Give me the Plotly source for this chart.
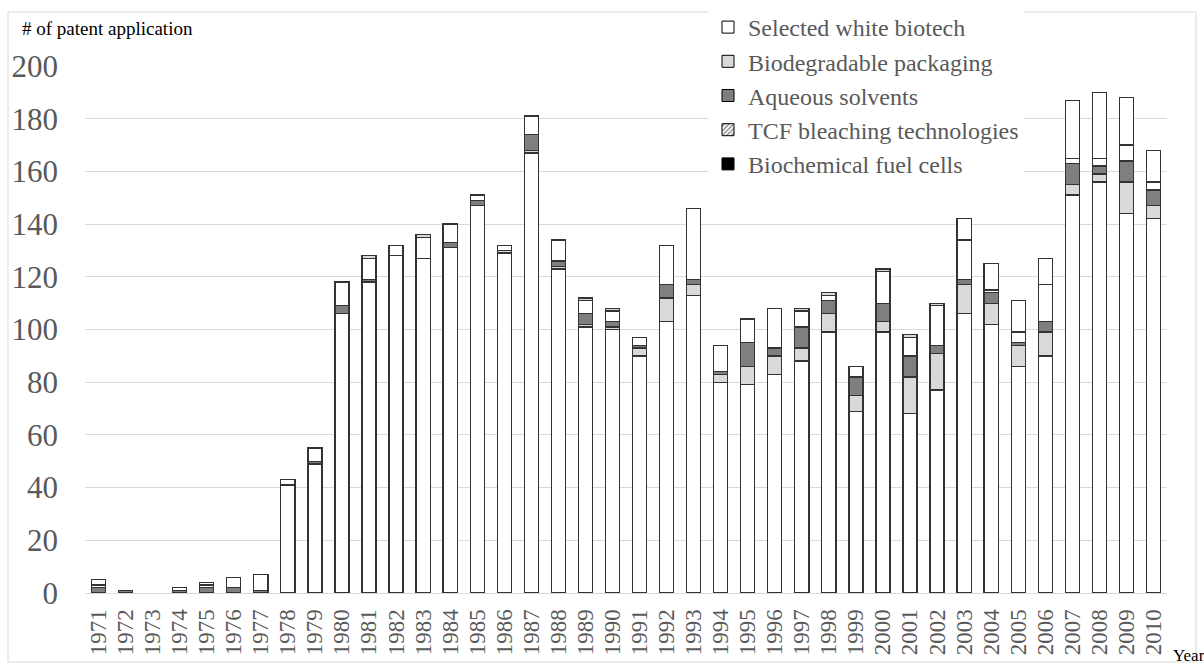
import plotly.graph_objects as go

years = [str(y) for y in range(1971, 2011)]

# stacked segments, bottom -> top
base_white = [0, 0, 0, 0, 0, 0, 0, 41, 49, 106, 118, 128, 127, 131, 147, 129, 167, 123, 101, 100,
              90, 103, 113, 80, 79, 83, 88, 99, 69, 99, 68, 77, 106, 102, 86, 90, 151, 156, 144, 142]
biodegradable = [0, 0, 0, 0, 0, 0, 0, 0, 0, 0, 0, 0, 0, 0, 0, 1, 1, 1, 1, 1,
                 3, 9, 4, 3, 7, 7, 5, 7, 6, 4, 14, 14, 11, 8, 8, 9, 4, 3, 12, 5]
aqueous = [2, 1, 0, 1, 2, 2, 1, 0, 1, 3, 1, 0, 0, 2, 2, 0, 6, 2, 4, 2,
           1, 5, 2, 1, 9, 3, 8, 5, 7, 7, 8, 3, 2, 4, 1, 4, 8, 3, 8, 6]
white_mid = [1, 0, 0, 1, 1, 4, 6, 2, 5, 9, 8, 4, 8, 7, 2, 2, 7, 8, 5, 4,
             3, 15, 27, 10, 9, 15, 6, 2, 4, 12, 7, 15, 15, 1, 4, 14, 2, 3, 6, 3]
white_top = [2, 0, 0, 0, 1, 0, 0, 0, 0, 0, 0, 0, 0, 0, 0, 0, 0, 0, 0, 0,
             0, 0, 0, 0, 0, 0, 0, 0, 0, 0, 0, 0, 8, 10, 12, 10, 22, 25, 18, 12]
gray_cap = [0, 0, 0, 0, 0, 0, 0, 0, 0, 0, 1, 0, 1, 0, 0, 0, 0, 0, 1, 1,
            0, 0, 0, 0, 0, 0, 1, 1, 0, 1, 1, 1, 0, 0, 0, 0, 0, 0, 0, 0]

legend_names = ["Selected white biotech", "Biodegradable packaging", "Aqueous solvents",
                "TCF bleaching technologies", "Biochemical fuel cells"]

EDGE = "#333333"
segments = [
    (base_white, "#ffffff"),
    (biodegradable, "#d9d9d9"),
    (aqueous, "#7f7f7f"),
    (white_mid, "#ffffff"),
    (white_top, "#ffffff"),
    (gray_cap, "#d9d9d9"),
]

fig = go.Figure()
for vals, col in segments:
    fig.add_trace(go.Bar(
        x=years, y=[v if v else None for v in vals],
        marker=dict(color=col, line=dict(color=EDGE, width=1.3)),
        showlegend=False, hoverinfo="x+y"))

legend_markers = [
    dict(color="#ffffff", line=dict(color="#000000", width=1)),
    dict(color="#d9d9d9", line=dict(color="#000000", width=1)),
    dict(color="#7f7f7f", line=dict(color="#000000", width=1)),
    dict(color="#ffffff", pattern=dict(shape="/", fgcolor="#000000", bgcolor="#ffffff", size=4, solidity=0.4),
         line=dict(color="#000000", width=1)),
    dict(color="#000000", line=dict(color="#000000", width=1)),
]
for nm, mk in zip(legend_names, legend_markers):
    fig.add_trace(go.Bar(x=[None], y=[None], name=nm, marker=mk, showlegend=True))

W, H = 1204, 668
L, R, T, B = 85, 37, 66, 75
pw, ph = W - L - R, H - T - B

def px(x):
    return (x - L) / pw

def py(y):
    return (H - B - y) / ph

fig.update_layout(
    width=W, height=H,
    margin=dict(l=L, r=R, t=T, b=B, autoexpand=False),
    barmode="stack", bargap=0.48,
    plot_bgcolor="white", paper_bgcolor="white",
    font=dict(family="Liberation Serif", color="#595959"),
    legend=dict(x=px(708), y=py(5), xanchor="left", yanchor="top",
                font=dict(size=24, color="#595959", family="Liberation Serif"),
                bgcolor="white", traceorder="normal", itemwidth=30),
    xaxis=dict(type="category", tickangle=-90, tickfont=dict(size=23, color="#595959"),
               tickmode="linear", dtick=1, automargin=False, ticklabelstandoff=6,
               showline=True, linecolor="#d9d9d9", linewidth=1, ticks="", showgrid=False),
    yaxis=dict(range=[0, 200], dtick=20, tickfont=dict(size=31, color="#595959"),
               gridcolor="#d9d9d9", gridwidth=1, zeroline=False, showline=False,
               ticklabelstandoff=26, automargin=False),
    shapes=[dict(type="rect", xref="paper", yref="paper",
                 x0=px(8), x1=px(1196), y0=py(662), y1=py(12),
                 line=dict(color="#d9d9d9", width=1), layer="below")],
    annotations=[
        dict(text="# of patent application", xref="paper", yref="paper", x=px(20), y=py(29),
             xanchor="left", yanchor="middle", showarrow=False,
             font=dict(size=19, color="#000000", family="Liberation Serif")),
        dict(text="Year", xref="paper", yref="paper", x=px(1171), y=py(655),
             xanchor="left", yanchor="middle", showarrow=False,
             font=dict(size=17, color="#000000", family="Liberation Serif")),
    ],
)

fig.write_html("out.html", config={"displayModeBar": False},
               post_script="document.body.style.margin='0px';document.body.style.overflow='hidden';")
